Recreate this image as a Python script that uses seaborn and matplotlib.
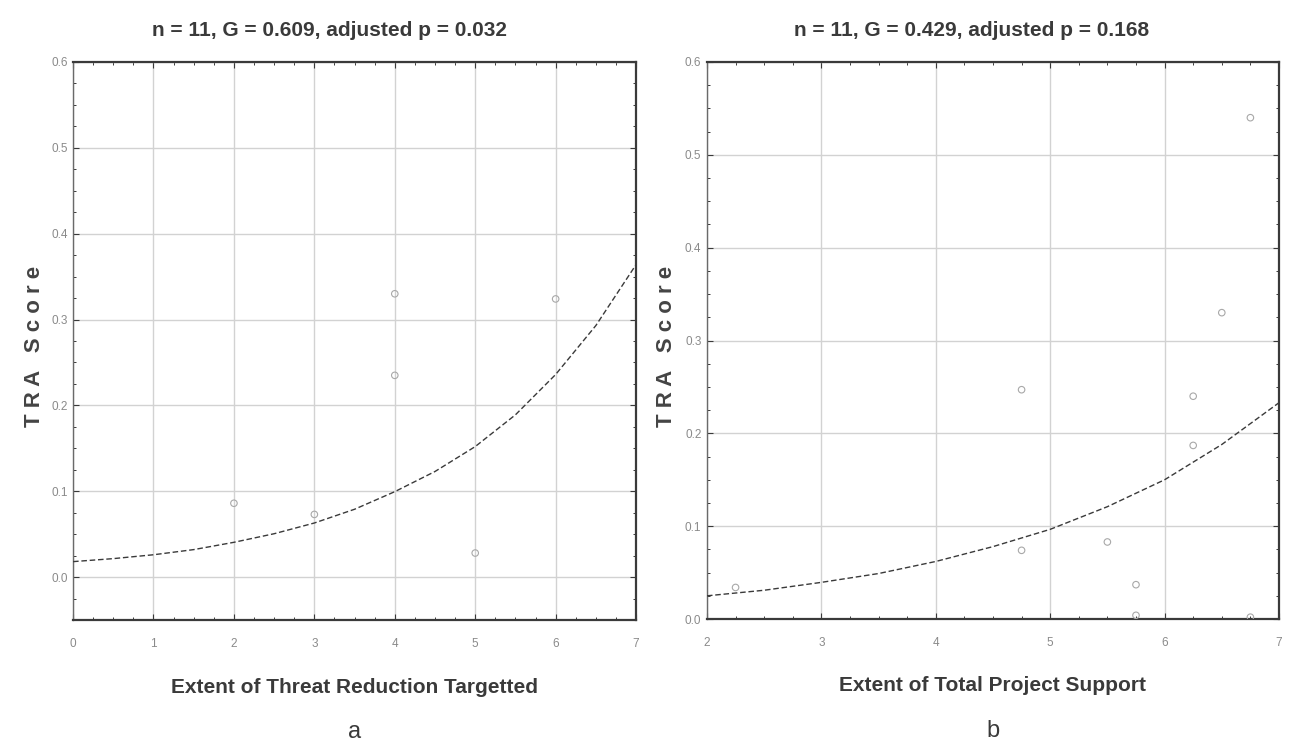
import matplotlib
matplotlib.use("Agg")
import matplotlib.pyplot as plt
from matplotlib.ticker import MultipleLocator
import numpy as np
import pandas as pd
import seaborn as sns

# ---- data -------------------------------------------------------------
# Panel a: TRA score vs extent of threat reduction targetted
threat_x = [2, 3, 4, 4, 5, 6]
threat_score = [0.086, 0.073, 0.235, 0.330, 0.028, 0.324]
threat_fit_x = [0, 0.5, 1, 1.5, 2, 2.5, 3, 3.5, 4, 4.5, 5, 5.5, 6, 6.5, 7]
threat_fit_y = [0.018, 0.0215, 0.026, 0.032, 0.0405, 0.0505, 0.063, 0.079,
                0.0995, 0.123, 0.152, 0.189, 0.236, 0.293, 0.364]

# Panel b: TRA score vs extent of total project support
support_x = [2.25, 4.75, 4.75, 5.5, 5.75, 5.75, 6.25, 6.25, 6.5, 6.75, 6.75]
support_score = [0.034, 0.247, 0.074, 0.083, 0.037, 0.004, 0.240, 0.187,
                 0.330, 0.540, 0.002]
support_fit_x = [2, 2.5, 3, 3.5, 4, 4.5, 5, 5.5, 6, 6.5, 7]
support_fit_y = [0.025, 0.031, 0.0395, 0.049, 0.062, 0.078, 0.0966, 0.121,
                 0.150, 0.188, 0.233]

titles = ["n = 11, G = 0.609, adjusted p = 0.032",
          "n = 11, G = 0.429, adjusted p = 0.168"]
x_labels = ["Extent of Threat Reduction Targetted",
            "Extent of Total Project Support"]
panel_tags = ["a", "b"]
y_label = "T R A   S c o r e"

# ---- style ------------------------------------------------------------
sns.set_theme(style="white")
plt.rcParams["font.family"] = ["Liberation Sans", "DejaVu Sans"]

INK = "#3a3a3a"
GRID = "#d2d2d2"
TICK = "#8a8a8a"
POINT = "#a8a8a8"

fig = plt.figure(figsize=(12.91, 7.46), dpi=100)
fig.patch.set_facecolor("white")

ax_a = fig.add_axes([0.0566, 0.1689, 0.4361, 0.7480])
ax_b = fig.add_axes([0.5476, 0.1702, 0.4431, 0.7467])

panels = [
    (ax_a, threat_x, threat_score, threat_fit_x, threat_fit_y,
     (0, 7), (-0.05, 0.6), np.arange(0, 8, 1), 0.456, -0.050),
    (ax_b, support_x, support_score, support_fit_x, support_fit_y,
     (2, 7), (0.0, 0.6), np.arange(2, 8, 1), 0.462, -0.053),
]

for i, (ax, px, py, fx, fy, xlim, ylim, xt, title_x, ylab_x) in enumerate(panels):
    pts = pd.DataFrame({"x": px, "y": py})
    fit = pd.DataFrame({"x": fx, "y": fy})

    ax.set_facecolor("white")
    sns.scatterplot(data=pts, x="x", y="y", ax=ax, marker="o", s=22,
                    facecolor="none", edgecolor=POINT, linewidth=0.8,
                    zorder=3, legend=False)
    sns.lineplot(data=fit, x="x", y="y", ax=ax, color=INK, linewidth=1.0,
                 zorder=4, legend=False)
    ax.lines[-1].set_dashes((4, 2))

    ax.set_xlim(*xlim)
    ax.set_ylim(*ylim)
    ax.set_xticks(xt)
    yt = np.round(np.arange(0, 0.61, 0.1), 1)
    ax.set_yticks(yt)
    ax.set_yticklabels([f"{v:.1f}" for v in yt])
    ax.xaxis.set_minor_locator(MultipleLocator(0.25))
    ax.yaxis.set_minor_locator(MultipleLocator(0.025))

    ax.grid(True, which="major", color=GRID, linewidth=1.0)
    ax.set_axisbelow(True)

    ax.tick_params(which="major", direction="in", length=4, width=0.8,
                   color=INK, top=True, right=True, bottom=True, left=True,
                   labelsize=8.5, labelcolor=TICK)
    ax.tick_params(axis="x", which="major", pad=13)
    ax.tick_params(axis="y", which="major", pad=4)
    ax.tick_params(which="minor", direction="in", length=2.5, width=0.7,
                   color=INK, top=True, right=True, bottom=True, left=True)

    for side, sp in ax.spines.items():
        sp.set_visible(True)
        sp.set_color(INK)
        sp.set_linewidth(1.6)
    ax.spines["left"].set_color("#6a6a6a")
    ax.spines["left"].set_linewidth(1.0)

    ax.text(title_x, 1.0 + 26 / 558, titles[i], transform=ax.transAxes,
            ha="center", va="baseline", fontsize=15, fontweight="bold",
            color=INK)
    ax.set_xlabel("")
    ax.text(0.5, -67 / 558, x_labels[i], transform=ax.transAxes,
            ha="center", va="center", fontsize=15, fontweight="bold",
            color=INK)
    ax.set_ylabel(y_label, fontsize=16, fontweight="bold", color="#444444")
    ax.yaxis.set_label_coords(ylab_x, 0.49)

    ax.text(0.5, -118 / 558, panel_tags[i], transform=ax.transAxes,
            ha="center", va="baseline", fontsize=17, color=INK)

fig.savefig("out.png", dpi=100, facecolor="white")
